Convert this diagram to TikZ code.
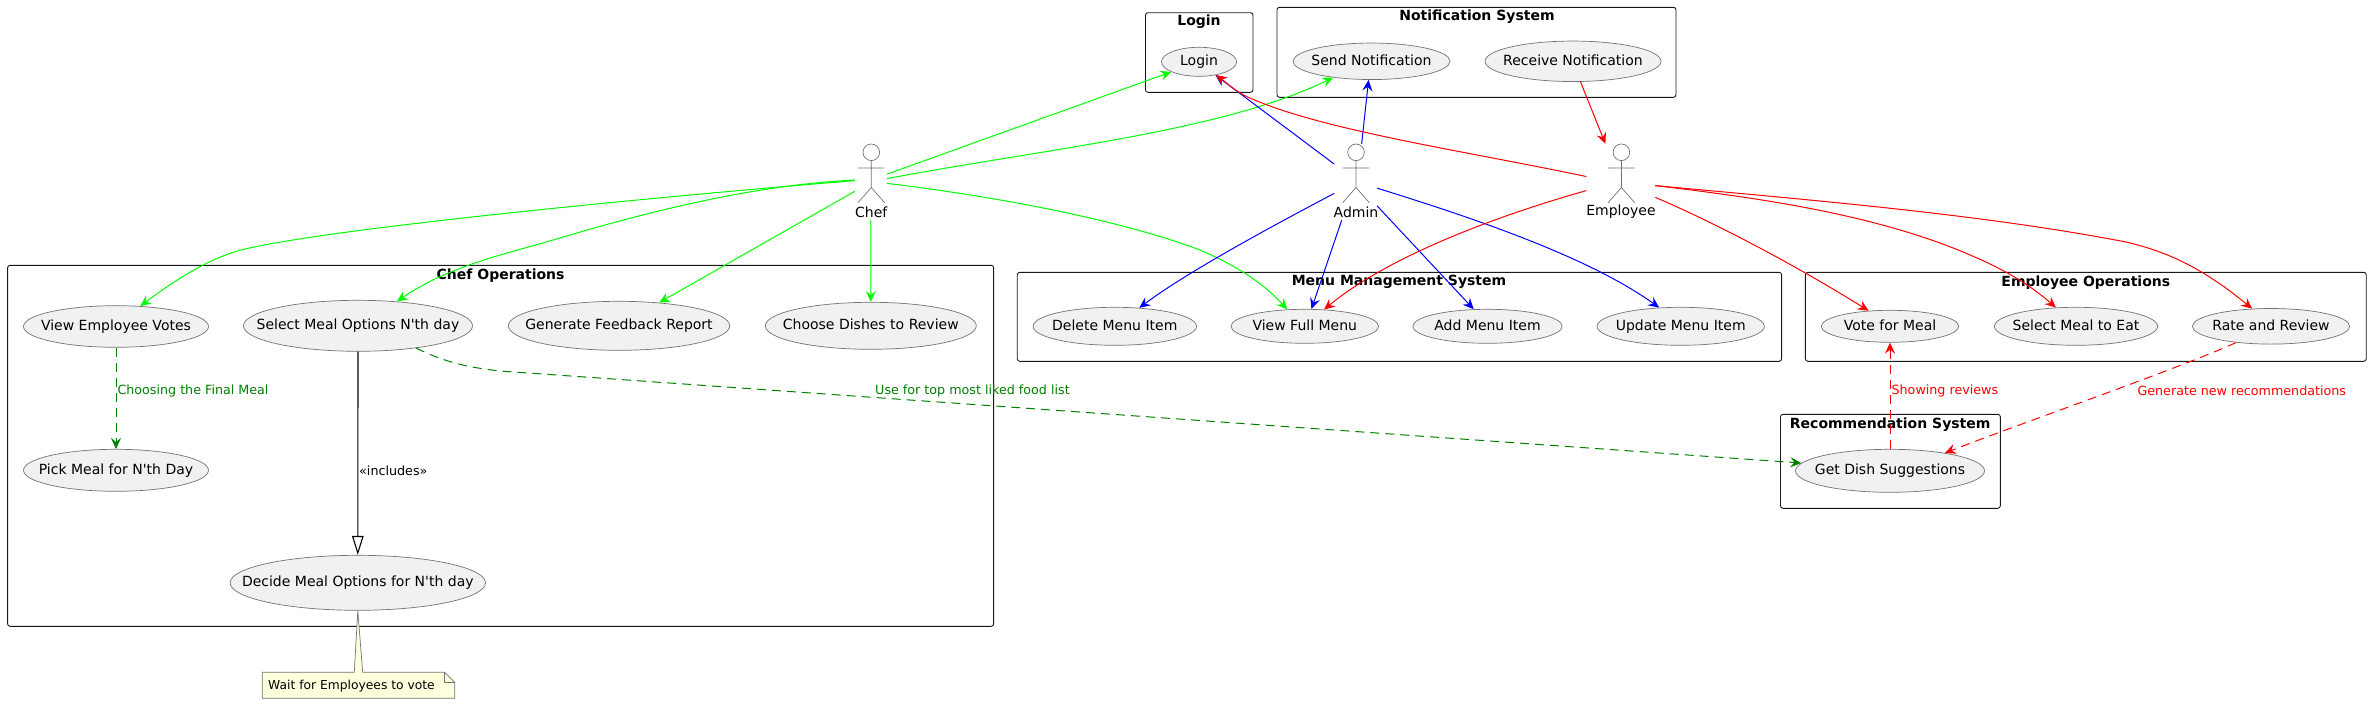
\documentclass[tikz,border=0pt]{standalone}
\usepackage{fontspec}
\setmainfont{DejaVu Sans}
\usetikzlibrary{arrows.meta,shapes.geometric}
\definecolor{limeline}{RGB}{0,255,0}
\definecolor{blueline}{RGB}{0,0,255}
\definecolor{redline}{RGB}{255,0,0}
\definecolor{darkline}{RGB}{0,128,0}
\definecolor{casefill}{RGB}{241,241,241}
\definecolor{notefill}{RGB}{254,255,221}
\newcommand{\casetext}[1]{\makebox[0pt]{\vphantom{Ag}#1}}
\tikzset{
  usecase/.style 2 args={ellipse,draw=black!55,line width=0.7pt,fill=casefill,inner sep=0pt,minimum width=#1,minimum height=#2,font=\fontsize{14}{16}\selectfont},
  sysbox/.style 2 args={rectangle,draw=black!90,line width=0.9pt,rounded corners=2.5pt,inner sep=0pt,minimum width=#1,minimum height=#2},
  boxtitle/.style={inner sep=0pt,font=\fontsize{14}{16}\selectfont\bfseries},
  edgetext/.style={inner sep=0pt,anchor=west,font=\fontsize{12.7}{15}\selectfont},
  notetext/.style={inner sep=0pt,anchor=west,font=\fontsize{12.3}{15}\selectfont},
  actortext/.style={inner sep=0pt,font=\fontsize{14}{16}\selectfont},
  actorspot/.style 2 args={rectangle,inner sep=0pt,minimum width=#1,minimum height=#2},
  link/.style={line width=1pt,-{Stealth[length=11pt,width=10pt,inset=4pt]}},
  linkdash/.style={link,dash pattern=on 9pt off 6pt},
  actor/.pic={
    \draw[black!55,line width=0.7pt] (0,-21) circle (8.3pt) (0,-12.7) -- (0,14.2) (-13.3,-5.3) -- (13.3,-5.3) (-13.3,29.4) -- (0,14.2) -- (13.3,29.4);
  }
}
\begin{document}
\begin{tikzpicture}[x=1pt,y=-1pt]
\useasboundingbox (0,0) rectangle (2371,704);

\node[sysbox={107.5pt}{79.6pt}] (loginbox) at (1199.2,52.5) {};
\node[sysbox={399pt}{90pt}] (notifybox) at (1476.5,52.3) {};
\node[sysbox={986pt}{361pt}] (chefbox) at (500.6,445.8) {};
\node[sysbox={764.3pt}{89pt}] (menubox) at (1399.4,316.8) {};
\node[sysbox={560.8pt}{89pt}] (empbox) at (2085.8,316.8) {};
\node[sysbox={219.8pt}{94pt}] (recbox) at (1890.4,461.3) {};

\node[boxtitle] (logintitle) at (1199,22) {Login};
\node[boxtitle] (notifytitle) at (1477,17) {Notification System};
\node[boxtitle] (cheftitle) at (500.6,276) {Chef Operations};
\node[boxtitle] (menutitle) at (1399,282.3) {Menu Management System};
\node[boxtitle] (emptitle) at (2085.8,282.3) {Employee Operations};
\node[boxtitle] (rectitle) at (1890.2,425) {Recommendation System};

\node[usecase={75pt}{29pt}] (login) at (1199,61.8) {\casetext{Login}};
\node[usecase={157pt}{36.5pt}] (send) at (1371.5,61.3) {\casetext{Send Notification}};
\node[usecase={176pt}{40.5pt}] (receive) at (1573,61.3) {\casetext{Receive Notification}};
\node[usecase={185pt}{41.6pt}] (votes) at (116,326.5) {\casetext{View Employee Votes}};
\node[usecase={229pt}{51pt}] (select) at (358,325.8) {\casetext{Select Meal Options N\textquotesingle th day}};
\node[usecase={221.4pt}{49pt}] (feedback) at (619,325.8) {\casetext{Generate Feedback Report}};
\node[usecase={211pt}{47pt}] (choose) at (870.8,325.8) {\casetext{Choose Dishes to Review}};
\node[usecase={185pt}{42pt}] (pick) at (116,470.3) {\casetext{Pick Meal for N\textquotesingle th Day}};
\node[usecase={255.4pt}{55pt}] (decide) at (357.8,582.8) {\casetext{Decide Meal Options for N\textquotesingle th day}};
\node[usecase={163.4pt}{38pt}] (delete) at (1114.8,326.3) {\casetext{Delete Menu Item}};
\node[usecase={147.6pt}{34pt}] (fullmenu) at (1304.8,326.3) {\casetext{View Full Menu}};
\node[usecase={149.4pt}{34pt}] (add) at (1487.5,326.3) {\casetext{Add Menu Item}};
\node[usecase={167.4pt}{38pt}] (update) at (1680.7,326.3) {\casetext{Update Menu Item}};
\node[usecase={137.4pt}{32pt}] (vote) at (1890,326.3) {\casetext{Vote for Meal}};
\node[usecase={163.2pt}{38pt}] (eat) at (2076,326.3) {\casetext{Select Meal to Eat}};
\node[usecase={157.2pt}{35.6pt}] (rate) at (2271,326.3) {\casetext{Rate and Review}};
\node[usecase={189pt}{43pt}] (dish) at (1890,470.8) {\casetext{Get Dish Suggestions}};

\node[actorspot={31.7pt}{76pt}] (chef) at (870.9,182) {};
\node[actorspot={42.4pt}{76pt}] (admin) at (1355.6,182) {};
\node[actorspot={68.4pt}{76pt}] (employee) at (1620.8,182) {};
\pic at (871.3,173.3) {actor};
\pic at (1356,173.3) {actor};
\pic at (1621.4,173.3) {actor};
\node[actortext] (cheflabel) at (871.3,212) {Chef};
\node[actortext] (adminlabel) at (1356,212) {Admin};
\node[actortext] (employeelabel) at (1621,212) {Employee};

\draw[link,limeline] (chef.26) -- (login.200.7);
\draw[link,limeline] (chef.12) .. controls (1050,148) and (1220,132) .. (send.203.3);
\draw[link,limeline] (chef.-5) .. controls (1000,197) and (1120,220) .. (1200,250) .. controls (1235,265) and (1262,282) .. (fullmenu.136.3);
\draw[link,limeline] (chef.south) -- (choose.north);
\draw[link,limeline] (chef.175) .. controls (620,200) and (320,230) .. (241,250) .. controls (210,258) and (175,280) .. (votes.40.6);
\draw[link,limeline] (chef.173) .. controls (750,185) and (640,214) .. (553,240) .. controls (510,253) and (450,265) .. (select.32.1);
\draw[link,limeline] (chef.210) -- (feedback.30.7);

\draw[link,blueline] (admin.140) -- (login.-39);
\draw[link,blueline] (admin.81) -- (send.261.8);
\draw[link,blueline] (admin.208) .. controls (1280,222) and (1190,270) .. (delete.37.8);
\draw[link,blueline] (admin.250.8) -- (fullmenu.69.4);
\draw[link,blueline] (admin.-48.5) -- (add.129.5);
\draw[link,blueline] (admin.-16.5) .. controls (1480,220) and (1590,258) .. (update.139.1);

\draw[link,redline] (employee.171.2) .. controls (1460,150) and (1320,130) .. (1247,96.7) .. controls (1235,91) and (1227,83) .. (login.-38);
\draw[link,redline] (employee.194.3) .. controls (1500,215) and (1390,255) .. (fullmenu.41.5);
\draw[link,redline] (receive.-70.7) -- (employee.112);
\draw[link,redline] (employee.-24) .. controls (1720,225) and (1800,268) .. (vote.144.7);
\draw[link,redline] (employee.-6.2) .. controls (1760,198) and (1880,215) .. (1974,256.7) .. controls (2005,270) and (2030,285) .. (eat.137.5);
\draw[link,redline] (employee.-6.2) .. controls (1810,200) and (1980,214) .. (2124.5,241.7) .. controls (2170,252) and (2205,270) .. (rate.137.4);

\draw[linkdash,darkline] (votes.south) -- (pick.north);
\draw[linkdash,darkline] (select.-21.3) .. controls (445,362) and (465,367) .. (500,371) -- (dish.175.2);
\draw[linkdash,redline] (dish.north) -- (vote.south);
\draw[linkdash,redline] (rate.205.8) .. controls (2180,368) and (2030,420) .. (dish.18.6);
\draw[black,line width=1.1pt,-{Triangle[open,length=19pt,width=11.5pt]}] (select.south) -- (decide.north);

\node[edgetext,darkline] (finalmeal) at (117.3,390.7) {Choosing the Final Meal};
\node[edgetext,darkline] (toplist) at (875,390.7) {Use for top most liked food list};
\node[edgetext,black] (includes) at (359,470.7) {«includes»};
\node[edgetext,redline] (reviews) at (1891.4,390.7) {Showing reviews};
\node[edgetext,redline] (newrec) at (2137.3,390.7) {Generate new recommendations};

\draw[draw=black!55,line width=0.7pt,fill=notefill] (262.3,672.3) -- (354.3,672.3) -- (decide.south) -- (362.7,672.3) -- (444.7,672.3) -- (454.7,682.3) -- (454.7,698.3) -- (262.3,698.3) -- cycle;
\draw[draw=black!55,line width=0.7pt] (444.7,672.3) -- (444.7,682.3) -- (454.7,682.3);
\node[notetext,black] (votenote) at (268,685.7) {Wait for Employees to vote};
\end{tikzpicture}
\end{document}
